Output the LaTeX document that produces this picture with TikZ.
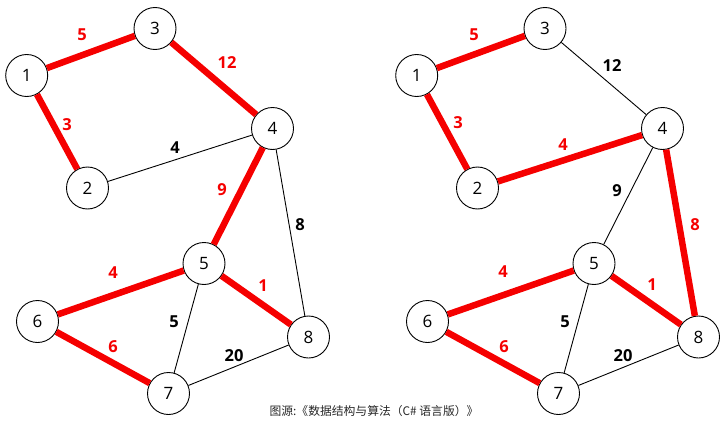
\documentclass[tikz,border=0pt]{standalone}
\usepackage{fontspec}
\setmainfont{Open Sans}
\newfontfamily\cjk{Noto Sans CJK SC}
\definecolor{redline}{RGB}{245,0,0}
\begin{document}
\begin{tikzpicture}[x=1pt,y=-1pt,
  vert/.style={circle,draw=black,line width=0.9pt,fill=white,minimum size=42pt,inner sep=0pt,font=\fontsize{17}{17}\selectfont},
  red edge/.style={draw=redline,line width=6.5pt},
  thin edge/.style={draw=black,line width=0.9pt},
  rw/.style={text=redline,font=\fontsize{16.5}{16.5}\selectfont\bfseries},
  bw/.style={text=black,font=\fontsize{16.5}{16.5}\selectfont\bfseries}]
\useasboundingbox (0,0) rectangle (726,423);
% left graph nodes
\node[vert] (a1) at (26.7,75.5) {1};
\node[vert] (a3) at (155,28.5) {3};
\node[vert] (a2) at (87.5,188) {2};
\node[vert] (a4) at (272.5,128.5) {4};
\node[vert] (a5) at (204,263.5) {5};
\node[vert] (a6) at (37.5,321.5) {6};
\node[vert] (a8) at (308.5,337) {8};
\node[vert] (a7) at (168.5,393.5) {7};
% right graph nodes
\node[vert] (b1) at (416.7,75.5) {1};
\node[vert] (b3) at (545,28.5) {3};
\node[vert] (b2) at (477.5,188) {2};
\node[vert] (b4) at (662.5,128.5) {4};
\node[vert] (b5) at (594,263.5) {5};
\node[vert] (b6) at (427.5,321.5) {6};
\node[vert] (b8) at (698.5,337) {8};
\node[vert] (b7) at (558.5,393.5) {7};
% left edges
\path[red edge] (a1) -- (a3);
\path[red edge] (a1) -- (a2);
\path[red edge] (a3) -- (a4);
\path[thin edge] (a2) -- (a4);
\path[red edge] (a4) -- (a5);
\path[thin edge] (a4) -- (a8);
\path[red edge] (a5) -- (a6);
\path[red edge] (a5) -- (a8);
\path[thin edge] (a5) -- (a7);
\path[red edge] (a6) -- (a7);
\path[thin edge] (a7) -- (a8);
% right edges
\path[red edge] (b1) -- (b3);
\path[red edge] (b1) -- (b2);
\path[thin edge] (b3) -- (b4);
\path[red edge] (b2) -- (b4);
\path[thin edge] (b4) -- (b5);
\path[red edge] (b4) -- (b8);
\path[red edge] (b5) -- (b6);
\path[red edge] (b5) -- (b8);
\path[thin edge] (b5) -- (b7);
\path[red edge] (b6) -- (b7);
\path[thin edge] (b7) -- (b8);
% left weights
\node[rw] (la13) at (82,35) {5};
\node[rw] (la34) at (227,63) {12};
\node[rw] (la12) at (67,125) {3};
\node[bw] (la24) at (175,148) {4};
\node[rw] (la45) at (222,190) {9};
\node[bw] (la48) at (300,225) {8};
\node[rw] (la56) at (113,273) {4};
\node[rw] (la58) at (263,286) {1};
\node[bw] (la57) at (174,322) {5};
\node[rw] (la67) at (113,347) {6};
\node[bw] (la78) at (234,356) {20};
% right weights
\node[rw] (lb13) at (474,35) {5};
\node[bw] (lb34) at (612,66) {12};
\node[rw] (lb12) at (458,123) {3};
\node[rw] (lb24) at (563,145) {4};
\node[bw] (lb45) at (617,191) {9};
\node[rw] (lb48) at (695,225) {8};
\node[rw] (lb56) at (503,272) {4};
\node[rw] (lb58) at (652,285) {1};
\node[bw] (lb57) at (565,322) {5};
\node[rw] (lb67) at (504,347) {6};
\node[bw] (lb78) at (623,356) {20};
% caption
\node[font=\cjk\fontsize{11.8}{11.8}\selectfont,text=black!85] (cap) at (374,411) {图源:《数据结构与算法（C\# 语言版）》};
\end{tikzpicture}
\end{document}
